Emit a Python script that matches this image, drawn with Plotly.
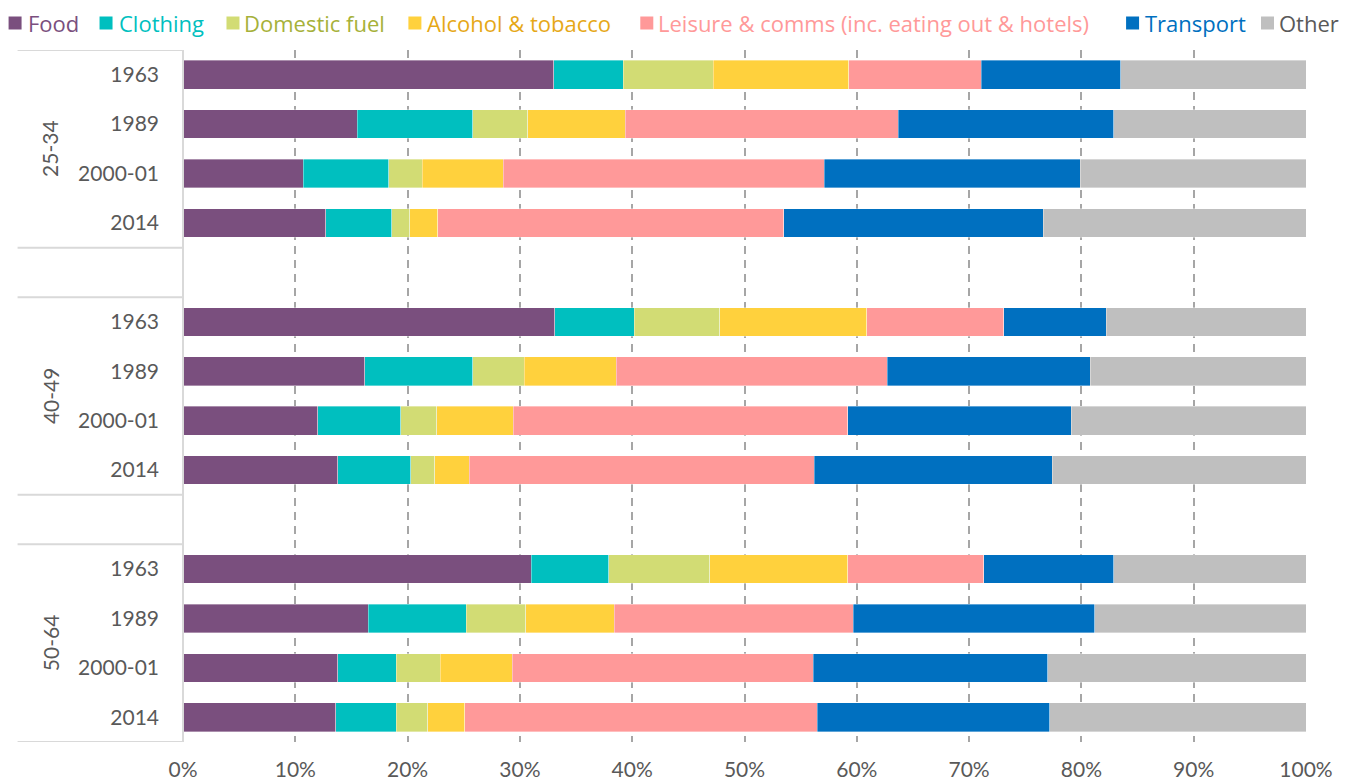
import plotly.graph_objects as go

ages = ["25-34", "40-49", "50-64"]
years = ["1963", "1989", "2000-01", "2014"]

series_names = ["Food", "Clothing", "Domestic fuel", "Alcohol & tobacco",
                "Leisure & comms (inc. eating out & hotels)", "Transport", "Other"]

# shares (%) in order: 25-34 (1963,1989,2000-01,2014), 40-49 (...), 50-64 (...)
food      = [33.0, 15.5, 10.7, 12.7,  33.1, 16.2, 12.0, 13.8,  31.0, 16.5, 13.8, 13.6]
clothing  = [6.2, 10.3, 7.6, 5.9,     7.1, 9.6, 7.4, 6.5,      6.9, 8.7, 5.2, 5.4]
dom_fuel  = [8.0, 4.9, 3.0, 1.6,      7.6, 4.6, 3.2, 2.1,      9.0, 5.3, 3.9, 2.8]
alcohol   = [12.1, 8.7, 7.2, 2.5,     13.1, 8.2, 6.8, 3.1,     12.3, 7.9, 6.4, 3.3]
leisure   = [11.8, 24.3, 28.6, 30.8,  12.2, 24.1, 29.8, 30.7,  12.1, 21.3, 26.8, 31.4]
transport = [12.4, 19.2, 22.8, 23.1,  9.1, 18.1, 19.9, 21.2,   11.6, 21.5, 20.9, 20.7]
other     = [16.5, 17.1, 20.1, 23.4,  17.8, 19.2, 20.9, 22.6,  17.1, 18.8, 23.0, 22.8]

series_values = [food, clothing, dom_fuel, alcohol, leisure, transport, other]
bar_colors = ["#7A4F7E", "#00BFBF", "#D2DC74", "#FFD13D", "#FF9999", "#0070C0", "#BFBFBF"]
text_colors = ["#7A4F7E", "#00BFBF", "#A6B13A", "#E6A817", "#FF9999", "#0070C0", "#595959"]

# slot positions: 4 rows per group, one empty slot between groups
ypos = []
ticktext = []
for g, age in enumerate(ages):
    for k, yr in enumerate(years):
        ypos.append(g * 5 + k)
        ticktext.append(yr)

fig = go.Figure()
for name, vals, bc in zip(series_names, series_values, bar_colors):
    fig.add_trace(go.Bar(
        y=ypos, x=[v / 100 for v in vals], orientation="h",
        name=name, showlegend=False,
        marker=dict(color=bc, line=dict(color="rgba(255,255,255,0.6)", width=0.6)),
        width=0.58,
    ))

# page body has an 8px margin; figure is shrunk so that the picture lines up
OFF = 8
W, H = 1360 - OFF, 782 - OFF
plot_left, plot_right, plot_top, plot_bottom = 182.5, 1306, 50, 742   # in window pixels
pw = plot_right - plot_left
ph = plot_bottom - plot_top

def px_x(x):  # window pixel -> paper x
    return (x - plot_left) / pw

def px_y(y):  # window pixel -> paper y
    return (plot_bottom - y) / ph

fig.update_layout(
    barmode="stack",
    width=W, height=H,
    margin=dict(l=plot_left - OFF, r=1360 - plot_right, t=plot_top - OFF,
                b=782 - plot_bottom, pad=0, autoexpand=False),
    paper_bgcolor="white", plot_bgcolor="white",
    font=dict(family="Lato, 'Open Sans', sans-serif", size=21, color="#595959"),
    showlegend=False,
    xaxis=dict(range=[0, 1], tickformat=".0%", dtick=0.1, tick0=0, automargin=False,
               showgrid=True, gridcolor="#A6A6A6", gridwidth=1.5, griddash="8px,6px",
               zeroline=False, showline=False, ticks="", ticklabelstandoff=13,
               tickfont=dict(size=21, color="#595959")),
    yaxis=dict(range=[13.5, -0.5], tickmode="array", tickvals=ypos, ticktext=ticktext,
               showgrid=False, zeroline=False, showline=False, ticks="", automargin=False,
               ticklabelstandoff=23,
               tickfont=dict(size=21, color="#595959")),
)

# left axis line and group separators
fig.add_shape(type="line", xref="paper", yref="y", x0=0, x1=0, y0=-0.5, y1=13.5,
              line=dict(color="#D9D9D9", width=2), layer="above")
for yb in [-0.5, 3.5, 4.5, 8.5, 9.5, 13.5]:
    fig.add_shape(type="line", xref="paper", yref="y", x0=px_x(17), x1=0, y0=yb, y1=yb,
                  line=dict(color="#D9D9D9", width=2))

# group labels
for g, age in enumerate(ages):
    fig.add_annotation(text=age, xref="paper", yref="y",
                       x=px_x(35), y=g * 5 + 1.5,
                       textangle=-90, showarrow=False,
                       font=dict(size=21, color="#595959"))

# legend (square swatch + coloured label), laid out in a single row
legend_square_x = [8, 99, 226, 408, 640, 1126, 1261]
legend_text_x = [26, 117, 243, 426, 657, 1144, 1278]
legend_y = 23
for name, bc, tc, sx, tx in zip(series_names, bar_colors, text_colors,
                                legend_square_x, legend_text_x):
    fig.add_shape(type="rect", xref="paper", yref="paper",
                  x0=px_x(sx), x1=px_x(sx + 13), y0=px_y(legend_y + 6.5), y1=px_y(legend_y - 6.5),
                  fillcolor=bc, line=dict(width=0))
    fig.add_annotation(text=name, xref="paper", yref="paper",
                       x=px_x(tx), y=px_y(legend_y), xanchor="left", yanchor="middle",
                       showarrow=False, borderpad=0,
                       font=dict(size=22, color=tc, family="'Open Sans', Lato, sans-serif"))

fig.write_html("out.html")
